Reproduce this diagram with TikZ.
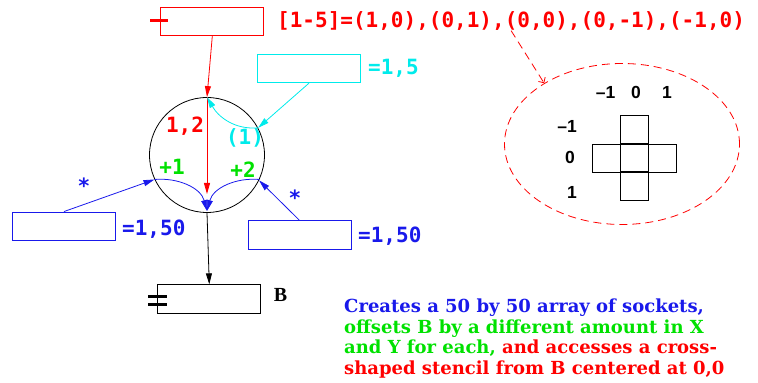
\documentclass[tikz,border=0pt]{standalone}
\usepackage{fontspec}
\setmainfont{Liberation Serif}
\setsansfont{Liberation Sans}
\setmonofont{DejaVu Sans Mono}
\newfontfamily\notefont{DejaVu Serif}
\usetikzlibrary{positioning, arrows.meta, shapes.geometric}

\definecolor{sockred}{RGB}{255,0,0}
\definecolor{sockblue}{RGB}{25,25,235}
\definecolor{sockgreen}{RGB}{0,225,0}
\definecolor{sockcyan}{RGB}{0,235,235}

\tikzset{
  port/.style={draw, minimum width=103pt, minimum height=28.5pt, inner sep=0pt, line width=0.8pt},
  code/.style={font=\fontsize{21}{24}\selectfont\ttfamily\bfseries, inner sep=0pt},
  idx/.style={font=\fontsize{17.5}{20}\selectfont\sffamily\bfseries, inner sep=0pt},
  cellbox/.style={draw, line width=0.8pt, minimum size=28.3pt, inner sep=0pt},
  tip/.style={-{Triangle[length=11pt,width=6pt]}, line width=0.8pt}
}

\begin{document}
\begin{tikzpicture}[x=1pt, y=1pt]
            \useasboundingbox (0,0) rectangle (758,383);

            % Source array and its offsets (top)
            \node[port, draw=sockred] (srcbox) at (212.3,361.5) {};
            \draw[sockred, line width=3.5pt] ([xshift=-10pt, yshift=1pt]srcbox.west) -- ([xshift=8pt, yshift=1pt]srcbox.west);
            \node[code, text=sockred, anchor=west] (srclabel) at (277,362) {[1-5]=(1,0),(0,1),(0,0),(0,-1),(-1,0)};

            % Socket loop (middle)
            \node[circle, draw, line width=0.8pt, minimum size=115pt, inner sep=0pt] (loop) at (207,228) {};
            \node[code, text=sockred] (redidx) at (185,257) {1,2};
            \node[code, text=sockcyan] (cyanidx) at (245,245) {(1)};
            \node[code, text=sockgreen] (plusone) at (172,216) {+1};
            \node[code, text=sockgreen] (plustwo) at (243,213) {+2};
            \coordinate (redend) at (207,189);
            \coordinate (meet) at (207,172);

            % Index boxes
            \node[port, draw=sockcyan] (cyanbox) at (309,314.5) {};
            \node[code, text=sockcyan, anchor=west] (cyanlabel) at (368,315) {=1,5};
            \node[port, draw=sockblue] (lbox) at (64,156.8) {};
            \node[code, text=sockblue, anchor=west] (llabel) at (122,154) {=1,50};
            \node[code, text=sockblue] (lstar) at (84,197) {*};
            \node[port, draw=sockblue] (rbox) at (299.5,148) {};
            \node[code, text=sockblue, anchor=west] (rlabel) at (358,147) {=1,50};
            \node[code, text=sockblue] (rstar) at (295,185) {*};

            % Result array (bottom)
            \node[port] (bbox) at (209.3,84) {};
            \draw[line width=3pt] ([xshift=-9pt, yshift=2.3pt]bbox.west) -- ([xshift=10pt, yshift=2.3pt]bbox.west);
            \draw[line width=3pt] ([xshift=-9pt, yshift=-6pt]bbox.west) -- ([xshift=10pt, yshift=-6pt]bbox.west);
            \node[font=\fontsize{20}{22}\selectfont\bfseries, inner sep=0pt] (blabel) at (280.5,88.5) {B};

            % Cross-shaped stencil (right)
            \node[ellipse, draw=sockred, dash pattern=on 8pt off 5pt, line width=0.8pt, minimum width=235pt, minimum height=161pt, inner sep=0pt] (stencil) at (622,239) {};
            \node[cellbox] (cup) at (634.5,253.2) {};
            \node[cellbox] (cdown) at (634.5,196.6) {};
            \node[cellbox] (cleft) at (606.5,224.9) {};
            \node[cellbox] (cright) at (662.7,224.9) {};
            \node[cellbox, line width=1.6pt] (ccenter) at (634.5,224.9) {};
            \node[idx] (colm) at (605.5,291) {\textendash1};
            \node[idx] (colz) at (636,291) {0};
            \node[idx] (colp) at (667,291) {1};
            \node[idx] (rowm) at (567,257) {\textendash1};
            \node[idx] (rowz) at (570,226) {0};
            \node[idx] (rowp) at (572,191) {1};

            % Note
            \node[anchor=north west, inner sep=0pt, align=left, font=\notefont\bfseries\fontsize{18}{20.7}\selectfont] (note) at (344,84.5)
              {\textcolor{sockblue}{Creates a 50 by 50 array of sockets,}\\
               \textcolor{sockgreen}{offsets B by a different amount in X}\\
               \textcolor{sockgreen}{and Y for each,} \textcolor{sockred}{and accesses a cross-}\\
               \textcolor{sockred}{shaped stencil from B centered at 0,0}};

            % Connections
            \draw[tip, sockred] (srcbox.south) -- (loop.north);
            \draw[tip, sockred] (loop.north) -- (redend);
            \draw[tip, sockcyan] (cyanbox.south) -- (loop.28);
            \draw[tip, sockcyan] (loop.28) to[out=185, in=-60] (loop.north);
            \draw[tip, sockblue] (lbox.north) -- (loop.205);
            \draw[tip, sockblue] (rbox.north) -- (loop.334);
            \draw[tip, sockblue] (loop.205) to[out=5, in=105] (meet);
            \draw[tip, sockblue] (loop.335) to[out=175, in=75] (meet);
            \draw[tip] (loop.south) -- (bbox.north);
            \draw[sockred, dash pattern=on 8pt off 5pt, line width=0.8pt, -{Straight Barb[length=4pt]}] (srclabel.south) -- (stencil.142);
        \end{tikzpicture}
\end{document}
